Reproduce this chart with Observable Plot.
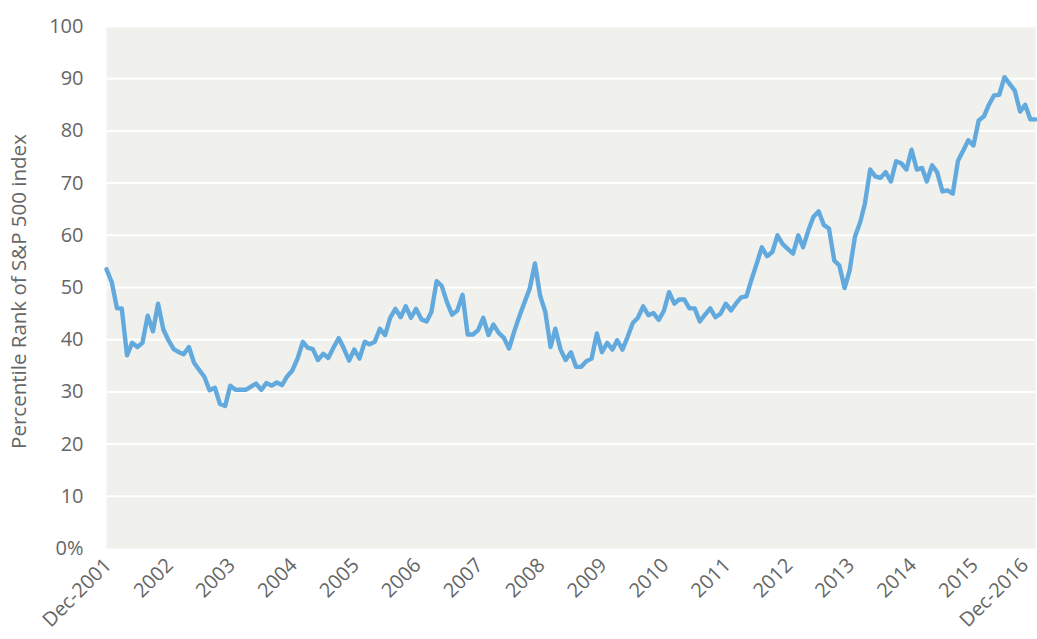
<!DOCTYPE html>
<html>
<head>
<meta charset="utf-8">
<script src="https://cdn.jsdelivr.net/npm/d3@7"></script>
<script src="https://cdn.jsdelivr.net/npm/@observablehq/plot@0.6"></script>
<style>
  html, body { margin: 0; padding: 0; background: #ffffff; }
  #chart svg { display: block; }
</style>
</head>
<body>
<div id="chart"></div>
<script>
// Monthly series, December 2001 → December 2016
const startYear = 2001;
const startMonth = 11; // December (0-based)
const percentileRank = [
  53.5, 51.0, 46.0, 46.0, 37.0, 39.4, 38.6, 39.4, 44.6, 41.6,
  46.9, 42.0, 39.9, 38.2, 37.6, 37.2, 38.6, 35.6, 34.2, 32.9,
  30.3, 30.8, 27.7, 27.3, 31.2, 30.4, 30.4, 30.4, 31.0, 31.6,
  30.4, 31.7, 31.2, 31.8, 31.3, 33.0, 34.1, 36.4, 39.6, 38.5,
  38.2, 36.1, 37.3, 36.5, 38.5, 40.3, 38.3, 36.0, 38.1, 36.4,
  39.6, 39.1, 39.6, 42.1, 40.9, 44.2, 45.9, 44.3, 46.4, 44.2,
  45.9, 43.9, 43.5, 45.3, 51.2, 50.3, 47.2, 44.8, 45.6, 48.6,
  41.0, 41.0, 41.8, 44.2, 40.9, 42.9, 41.3, 40.4, 38.3, 41.5,
  44.5, 47.2, 49.8, 54.6, 48.5, 45.3, 38.6, 42.1, 38.1, 36.1,
  37.6, 34.8, 34.8, 35.9, 36.4, 41.2, 37.6, 39.4, 38.1, 39.9,
  38.1, 40.5, 43.2, 44.2, 46.4, 44.7, 45.1, 43.8, 45.5, 49.1,
  46.9, 47.7, 47.7, 46.0, 46.0, 43.5, 44.8, 46.0, 44.3, 45.0,
  46.9, 45.6, 47.0, 48.1, 48.3, 51.5, 54.6, 57.7, 56.0, 56.8,
  60.0, 58.3, 57.4, 56.5, 60.0, 57.7, 60.9, 63.5, 64.6, 62.0,
  61.3, 55.2, 54.2, 49.9, 53.3, 59.7, 62.5, 66.1, 72.6, 71.3,
  71.0, 72.1, 70.3, 74.2, 73.8, 72.6, 76.4, 72.6, 72.9, 70.3,
  73.4, 72.1, 68.4, 68.6, 68.0, 74.3, 76.2, 78.2, 77.2, 82.0,
  82.8, 85.0, 86.8, 86.9, 90.3, 89.0, 87.7, 83.7, 85.0, 82.2,
  82.2
];
const xTickLabels = ["Dec-2001", "2002", "2003", "2004", "2005", "2006", "2007", "2008",
  "2009", "2010", "2011", "2012", "2013", "2014", "2015", "Dec-2016"];
const yTickValues = [0, 10, 20, 30, 40, 50, 60, 70, 80, 90, 100];
const yTitle = "Percentile Rank of S&P 500 index";

const data = percentileRank.map((v, i) => ({
  date: new Date(Date.UTC(startYear, startMonth + i, 1)),
  value: v
}));
const xTicks = xTickLabels.map((label, k) => ({
  date: new Date(Date.UTC(startYear, startMonth + 12 * k, 1)),
  label,
  last: k === xTickLabels.length - 1
}));

const chart = Plot.plot({
  width: 1037,
  height: 639,
  marginLeft: 106,
  marginRight: 2,
  marginTop: 26,
  marginBottom: 91,
  style: {
    fontFamily: "'Open Sans', 'Noto Sans', sans-serif",
    fontSize: "20px",
    color: "#666666",
    background: "#ffffff"
  },
  x: {
    type: "utc",
    domain: [xTicks[0].date, xTicks[xTicks.length - 1].date],
    axis: null
  },
  y: {
    domain: [0, 100],
    ticks: yTickValues,
    tickFormat: d => d === 0 ? "0%" : String(d),
    tickSize: 0,
    tickPadding: 23,
    label: null
  },
  marks: [
    Plot.frame({fill: "#f0f0ec", stroke: "none"}),
    Plot.ruleY(yTickValues.filter(d => d > 0), {stroke: "#ffffff", strokeWidth: 2}),
    Plot.line(data, {
      x: "date",
      y: "value",
      stroke: "#62a9de",
      strokeWidth: 4.4,
      strokeLinejoin: "round",
      strokeLinecap: "round"
    }),
    // x tick labels, rotated, anchored at each December
    Plot.text(xTicks.filter(d => !d.last), {
      x: "date",
      frameAnchor: "bottom",
      text: "label",
      rotate: -45,
      textAnchor: "end",
      dx: 6,
      dy: 18,
      fontSize: 20,
      fill: "#666666"
    }),
    Plot.text(xTicks.filter(d => d.last), {
      x: "date",
      frameAnchor: "bottom",
      text: "label",
      rotate: -45,
      textAnchor: "end",
      dx: -6,
      dy: 18,
      fontSize: 20,
      fill: "#666666"
    }),
    Plot.text([yTitle], {
      frameAnchor: "left",
      rotate: -90,
      textAnchor: "middle",
      dx: -87,
      dy: 4,
      fontSize: 20.5,
      fill: "#666666",
      text: d => d
    })
  ]
});
document.getElementById("chart").appendChild(chart);
</script>
</body>
</html>
